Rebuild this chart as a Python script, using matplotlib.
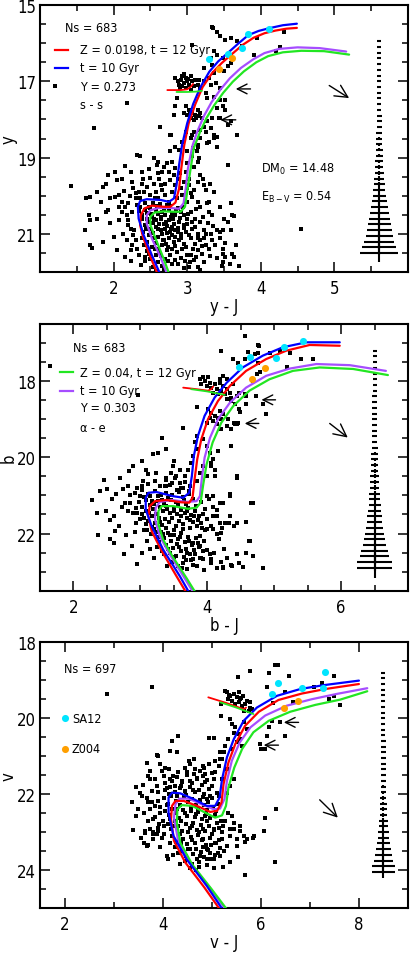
import numpy as np
import matplotlib
matplotlib.use('Agg')
import matplotlib.pyplot as plt
from matplotlib.ticker import MultipleLocator, FixedLocator

plt.rcParams['font.family'] = ['DejaVu Sans']
plt.rcParams['font.stretch'] = 'condensed'
plt.rcParams['mathtext.default'] = 'regular'

# ---------------- panel 1 : y vs y-J ----------------
yJ_stars = [
    (1.42,19.75),(1.62,20.07),(1.68,20.03),(1.78,19.90),(1.86,19.76),(1.89,19.68),(1.93,19.46),(2.02,19.37),
    (2.05,19.59),(2.11,19.55),(2.15,19.21),(2.23,19.37),(2.25,19.63),(2.32,18.93),(2.39,19.39),(2.55,19.02),
    (2.61,19.11),(2.66,19.37),(2.77,18.84),(2.80,19.11),(2.84,19.28),
    (1.83,20.16),(1.89,20.42),(1.93,20.38),(1.95,20.07),(2.02,20.03),(2.07,19.98),(2.11,20.16),(2.16,20.29),
    (2.11,20.42),(2.07,20.64),(2.18,20.51),(2.20,20.64),(2.25,20.42),(2.27,19.81),(2.30,19.94),(2.30,20.07),
    (2.34,19.90),(2.36,20.07),(2.23,20.86),(2.27,21.04),(2.18,21.17),(2.25,21.30),(2.30,21.17),(2.32,21.39),
    (2.23,21.43),(1.68,21.30),(1.70,21.37),(1.61,20.90),(1.66,20.51),(1.77,20.60),(1.68,20.64),(2.00,21.08),
    (2.05,21.43),(2.23,21.72),(2.43,21.72),
    (2.41,19.90),(2.45,19.76),(2.50,19.98),(2.57,19.90),(2.61,20.07),(2.66,19.85),(2.70,19.98),(2.75,20.16),
    (2.80,19.90),(2.84,19.72),(2.86,20.07),(2.93,19.98),(2.98,20.16),(3.00,19.81),
    (2.32,20.25),(2.36,20.29),(2.43,20.38),(2.50,20.33),(2.57,20.38),(2.61,20.47),(2.66,20.42),(2.70,20.51),
    (2.75,20.38),(2.80,20.47),(2.84,20.51),(2.91,20.42),(2.95,20.51),(3.00,20.60),
    (2.39,20.51),(2.45,20.60),(2.52,20.55),(2.57,20.64),(2.64,20.60),(2.68,20.73),(2.75,20.64),(2.82,20.73),
    (2.89,20.69),(2.95,20.77),(2.43,20.77),(2.50,20.86),(2.57,20.82),(2.64,20.90),(2.70,20.86),(2.77,20.95),
    (2.84,20.90),(2.91,20.99),(2.98,20.95),(2.48,21.04),(2.55,21.12),(2.61,21.08),(2.68,21.17),(2.75,21.12),
    (2.82,21.21),(2.89,21.17),(2.95,21.26),(2.52,21.34),(2.59,21.39),(2.66,21.30),(2.73,21.43),(2.80,21.39),
    (2.86,21.48),(2.93,21.39),(3.00,21.56),(2.57,21.56),(2.70,21.65),(2.84,21.69),(2.48,21.52),(2.61,21.74),
    (2.46,20.45),(2.53,20.20),(2.59,20.28),(2.72,20.25),(2.78,20.56),(2.88,20.33),(2.47,20.68),(2.54,20.72),
    (2.62,20.75),(2.72,20.80),(2.80,20.82),(2.87,20.84),(2.40,20.95),(2.53,20.97),(2.66,21.01),(2.79,21.03),
    (2.38,21.10),(2.46,21.20),(2.58,21.25),(2.71,21.27),(2.84,21.32),(2.41,21.30),(2.62,21.47),(2.77,21.55),
    (2.92,21.63),(2.66,21.85),(2.80,21.80),(2.95,21.90),(2.54,21.88),
    (3.00,20.16),(3.07,20.03),(3.14,20.16),(3.18,20.29),(3.27,20.20),(3.36,19.90),(3.30,20.42),(3.34,20.51),
    (3.05,20.42),(3.11,20.60),(3.00,20.73),(3.07,20.86),(3.14,20.99),(3.23,20.90),(3.32,20.99),(3.41,20.90),
    (3.48,20.90),(3.59,20.90),(3.63,20.53),(3.55,19.19),(3.05,21.12),(3.11,21.26),(3.18,21.17),(3.25,21.30),
    (3.30,21.39),(3.14,21.43),(3.20,21.52),(3.05,21.56),(3.09,21.69),(3.23,21.74),(3.02,21.87),(3.14,21.87),
    (3.48,21.39),(3.49,21.52),(3.61,21.52),(3.64,21.61),(3.70,21.84),(3.48,21.74),(3.23,21.12),(3.34,21.17),
    (3.00,19.15),(3.07,18.97),(3.14,19.11),(3.13,18.84),(2.95,19.63),(3.02,19.55),
    (2.36,18.96),(2.59,19.19),(2.61,19.41),(2.68,19.24),(2.73,19.13),(2.75,19.37),(2.82,19.46),(2.77,19.59),
    (2.70,19.68),(2.64,19.72),(2.55,19.68),(2.50,19.54),(2.39,19.68),(3.09,19.25),(3.16,19.02),(3.18,19.46),
    (3.14,19.63),(3.23,19.72),(3.25,19.85),(3.09,19.85),(3.02,19.72),(2.98,19.37),(3.08,18.75),(3.14,18.67),
    (3.18,18.49),(3.25,18.32),(3.27,18.62),(3.18,18.27),(3.07,18.40),(2.98,18.32),(2.93,18.58),(2.89,18.80),
    (2.84,18.71),(3.41,18.71),(3.36,18.40),(3.55,18.14),(3.45,17.97),
    (2.18,17.57),(1.74,18.23),(2.63,18.21),(2.78,18.40),(3.35,15.60),(3.07,16.04),(4.31,15.70),(4.26,16.10),
    (3.91,16.32),(3.68,18.40),(3.30,20.16),(3.59,20.18),(3.61,20.51),(3.45,20.95),(4.55,20.86),(3.51,21.61),
    (3.47,21.83),
    (3.34,15.58),(3.40,15.70),(3.45,15.82),(3.52,15.93),(3.59,15.86),(3.68,15.95),(3.75,16.08),(3.95,15.86),
    (4.20,16.21),(3.36,16.21),(3.41,16.30),(3.48,16.39),(3.32,16.39),(3.34,16.56),(3.55,16.61),(3.50,16.74),
    (3.59,16.52),(3.23,16.65),(3.36,16.78),(3.30,16.91),(3.16,16.96),(3.23,17.00),(3.32,17.09),(3.39,17.04),
    (3.45,17.18),
    (2.84,16.91),(2.91,16.96),(2.93,16.87),(2.98,16.91),(3.00,17.00),(3.05,16.87),(3.02,17.09),(3.07,17.00),
    (3.09,17.13),(2.95,17.04),(2.89,17.09),(3.11,16.96),(2.98,17.18),(2.93,17.13),(3.05,17.22),(3.14,17.09),
    (2.87,17.00),(2.96,16.82),(3.01,16.95),(2.90,17.17),
    (3.18,17.18),(3.25,17.31),(3.27,17.44),(3.36,17.40),(3.45,17.48),(3.48,17.66),(3.52,17.48),(3.41,17.70),
    (3.43,17.97),(3.34,17.97),(3.52,17.75),(3.59,18.05),(3.41,18.45),(3.36,18.49),(3.30,18.58),(3.32,18.23),
    (3.23,18.19),(3.27,18.05),
    (2.98,17.66),(3.02,17.75),(3.07,17.83),(3.11,17.88),(3.16,17.92),(3.00,17.88),(3.05,17.97),(3.14,17.75),
    (3.18,17.83),(2.95,17.83),(3.09,18.01),(3.20,17.97),(3.04,17.80),(3.12,17.95),
    (2.84,17.66),(2.82,17.88),(2.86,17.44),(2.77,18.40),(3.00,18.84),(3.14,18.71),(3.05,18.49),(3.09,18.32),
    (2.35,20.40),(2.38,20.60),(2.42,20.20),(2.44,20.88),(2.48,20.30),(2.51,20.48),(2.55,20.62),(2.56,20.05),
    (2.60,20.88),(2.63,20.22),(2.65,20.55),(2.67,21.15),(2.69,20.35),(2.71,20.68),(2.73,20.98),(2.74,21.35),
    (2.76,20.28),(2.78,20.88),(2.81,20.62),(2.83,21.08),(2.85,20.40),(2.87,20.95),(2.90,20.58),(2.92,21.12),
    (2.94,20.30),(2.96,20.85),(2.99,21.35),(3.01,20.48),(3.03,21.02),(3.06,20.68),(3.08,21.40),(3.10,20.82),
    (3.12,20.35),(3.15,21.10),(3.17,20.70),(3.20,21.32),(3.22,20.55),(3.26,21.00),(3.28,20.72),(3.31,21.58),
    (3.35,20.80),(3.38,21.30),(3.40,21.62),(3.44,21.10),(3.52,21.25),(3.56,20.70),(3.58,21.80),(3.66,21.30),
    (2.45,21.45),(2.50,21.65),(2.56,21.40),(2.64,21.58),(2.68,21.95),(2.74,21.70),(2.88,21.78),(2.97,21.70),
    (3.04,21.75),(3.12,21.60),(3.18,21.95),(2.42,21.60),(2.37,21.82),(2.58,21.96),(2.28,20.90),(2.20,20.20),
    (2.14,19.88),(2.22,20.00),(2.08,20.30),(2.19,20.78),(2.13,21.00),(2.35,21.55),(2.15,21.60),(1.95,20.72),
    (1.85,21.20),(2.40,19.55),(2.48,19.30),(2.62,19.55),(2.90,19.40),(2.92,19.80),(2.87,19.55),(3.05,19.92),
    (3.22,19.55),(3.31,19.70),(3.45,20.30),(3.50,20.60),
]
yJ_red = [(2.645,22.26),(2.49,21.56),(2.40,21.08),(2.36,20.77),(2.37,20.51),(2.42,20.33),(2.52,20.26),
          (2.68,20.29),(2.77,20.29),(2.84,20.18),(2.89,19.81),(2.92,19.28),(2.96,18.67),(3.02,18.10),
          (3.11,17.60),(3.21,17.15),(3.34,16.78),(3.47,16.52),(3.60,16.30),(3.75,16.05),(3.90,15.86),
          (4.05,15.74),(4.20,15.67),(4.35,15.62),(4.49,15.60)]
yJ_blue = [(2.68,22.26),(2.52,21.56),(2.41,21.04),(2.34,20.60),(2.33,20.29),(2.36,20.14),(2.45,20.09),
           (2.64,20.11),(2.75,20.16),(2.82,20.07),(2.855,19.72),(2.89,19.19),(2.93,18.67),(3.00,18.10),
           (3.08,17.60),(3.18,17.15),(3.30,16.75),(3.42,16.48),(3.55,16.26),(3.70,16.00),(3.83,15.79),
           (3.97,15.68),(4.11,15.61),(4.30,15.53),(4.49,15.49)]
yJ_purple = [(2.77,22.26),(2.645,21.65),(2.52,21.12),(2.45,20.73),(2.45,20.51),(2.50,20.38),(2.61,20.32),
             (2.77,20.32),(2.89,20.34),(2.95,20.20),(2.98,19.81),(3.01,19.28),(3.07,18.70),(3.14,18.30),
             (3.23,17.90),(3.33,17.55),(3.45,17.22),(3.58,16.92),(3.73,16.65),(3.90,16.42),(4.05,16.26),
             (4.25,16.15),(4.50,16.11),(4.80,16.13),(5.16,16.22)]
yJ_green = [(2.795,22.26),(2.68,21.65),(2.57,21.12),(2.50,20.77),(2.50,20.55),(2.555,20.44),(2.68,20.41),
            (2.82,20.42),(2.91,20.42),(2.97,20.29),(3.00,19.90),(3.04,19.37),(3.09,18.75),(3.17,18.35),
            (3.26,17.97),(3.37,17.62),(3.49,17.30),(3.62,17.01),(3.77,16.74),(3.94,16.50),(4.10,16.34),
            (4.30,16.24),(4.55,16.20),(4.86,16.21),(5.20,16.30)]
yJ_hb_red = [(2.73,17.23),(2.91,17.23),(3.00,17.21),(3.05,17.14),(3.08,17.07)]
yJ_hb_green = [(2.855,17.28),(3.00,17.28),(3.12,17.27),(3.20,17.25)]
yJ_sa12 = [(3.29,16.41),(3.55,16.28),(3.74,16.12),(3.83,15.76),(4.11,15.62)]
yJ_z004 = [(3.43,16.68),(3.61,16.39)]
yJ_err_mag = [15.95,16.10,16.25,16.40,16.55,16.70,16.85,17.00,17.15,17.30,17.45,17.60,17.75,17.90,18.05,
              18.20,18.35,18.50,18.65,18.80,18.95,19.10,19.25,19.40,19.55,19.70,19.85,20.00,20.15,20.30,
              20.45,20.60,20.75,20.90,21.05,21.20,21.35,21.50]
yJ_err_col = [0.025,0.025,0.025,0.025,0.025,0.025,0.025,0.026,0.026,0.027,0.028,0.029,0.030,0.032,0.034,
              0.036,0.038,0.040,0.043,0.046,0.049,0.052,0.056,0.062,0.068,0.074,0.082,0.092,0.104,0.118,
              0.132,0.146,0.158,0.170,0.185,0.205,0.230,0.260]
yJ_err_y = [0.01,0.01,0.01,0.01,0.012,0.012,0.013,0.014,0.015,0.016,0.018,0.02,0.022,0.024,0.026,0.028,
            0.03,0.033,0.036,0.04,0.044,0.048,0.053,0.058,0.064,0.07,0.076,0.082,0.09,0.10,0.11,0.12,
            0.13,0.15,0.17,0.19,0.21,0.24]

# ---------------- panel 2 : b vs b-J ----------------
bJ_stars = [
    (1.65,17.61),(2.96,18.36),(3.32,19.48),(3.63,19.24),(3.19,19.92),(3.27,19.88),(3.38,19.79),(3.02,20.10),
    (2.89,20.23),(2.83,20.36),(3.09,20.32),(3.12,20.45),(3.24,20.40),(2.69,20.54),(2.64,20.97),(2.74,20.84),
    (2.82,20.76),(2.50,20.83),(2.40,20.89),(2.28,21.12),(2.84,21.19),(2.82,21.41),(2.54,21.65),(2.89,21.46),
    (2.94,21.33),(2.99,21.02),(3.02,20.76),(3.04,20.62),(2.92,20.93),(3.49,20.23),(3.54,20.49),(3.47,20.67),
    (3.39,20.76),(2.94,21.72),(2.99,21.63),(2.61,21.54),(2.37,22.04),(2.62,21.94),(2.60,22.25),(2.88,22.33),
    (3.02,22.51),(2.92,21.96),(2.77,21.19),
    (4.56,16.81),(4.21,17.20),(4.39,17.42),(4.46,17.51),(4.56,17.42),(4.71,17.29),(4.76,17.05),(4.61,17.23),
    (4.76,17.51),(4.79,17.77),(4.74,17.82),(4.68,17.99),(4.94,17.25),(5.08,17.20),(5.23,17.25),(5.40,17.42),
    (5.58,17.42),(5.19,17.64),(4.24,17.86),(4.29,17.95),(4.39,18.08),(4.36,18.43),(4.58,18.61),(4.49,18.82),
    (4.40,19.09),(4.44,19.13),(4.88,18.87),(4.83,18.61),(4.73,18.39),(4.56,18.34),(4.16,19.83),(4.36,19.70),
    (4.44,20.54),(4.06,20.14),(4.11,20.49),(4.68,21.21),(4.58,21.69),(4.33,21.72),(4.40,21.81),(4.19,21.72),
    (4.09,21.54),(4.14,21.37),(4.24,21.19),(4.34,21.02),(3.99,21.02),(4.45,22.55),(4.58,22.51),(4.68,22.60),
    (4.53,22.89),(4.37,22.84),(4.64,22.20),(4.83,22.90),(4.23,22.88),(4.14,22.90),(4.06,22.77),(4.04,22.55),
    (3.89,22.64),(3.79,22.68),
    (3.89,17.95),(3.96,17.99),(4.04,18.04),(4.11,18.08),(4.19,18.04),(4.24,18.12),(3.99,18.12),(4.06,18.17),
    (4.14,18.21),(4.21,18.26),(4.29,18.21),(4.09,18.30),(4.16,18.34),(4.26,18.34),(3.94,17.90),(4.01,17.90),
    (3.91,18.08),(4.34,18.30),(4.19,17.95),(4.29,18.47),(4.36,18.52),(4.44,18.39),(4.48,18.30),(4.41,18.61),
    (4.58,18.39),(4.48,18.74),
    (4.01,18.74),(4.06,18.83),(4.11,18.91),(4.16,18.96),(4.21,19.00),(4.04,18.96),(4.09,19.04),(4.14,19.13),
    (4.24,18.87),(4.19,18.78),(3.99,19.09),(4.29,19.18),(4.31,19.00),(4.36,19.26),(4.41,19.13),(4.46,19.09),
    (3.84,19.44),(3.81,19.61),(3.86,19.79),(3.79,19.97),(3.76,20.14),(3.94,19.53),(3.99,19.70),(4.04,19.88),
    (4.09,20.05),(4.06,20.23),(4.11,20.32),(3.94,20.23),(3.89,20.40),(3.84,20.62),(3.99,20.49),(3.71,20.32),
    (3.66,20.49),(3.59,20.32),(3.51,20.10),(3.46,20.40),(3.39,20.54),(3.37,20.75),(3.59,20.67),(3.64,20.80),
    (3.74,20.76),(4.21,19.26),(4.44,20.49),(4.34,20.97),(4.19,21.19),(4.09,21.02),(4.66,21.19),(4.44,21.72),
    (4.34,21.54),(4.26,21.72),(4.14,21.54),(4.09,21.89),(4.21,21.98),(4.63,22.20),(4.58,22.51),(4.48,22.77),
    (4.36,22.82),(4.24,22.90),(4.06,22.68),(3.99,22.42),(3.89,22.33),(3.94,22.68),(3.79,22.25),(3.89,22.07),
    (3.99,21.89),(3.85,18.69),(4.78,17.07),(4.76,17.25),
    (3.05,21.05),(3.12,20.95),(3.18,21.15),(3.22,20.88),(3.27,21.02),(3.33,21.12),(3.38,20.93),(3.42,21.08),
    (3.48,20.98),(3.53,21.16),(3.57,20.90),(3.63,21.05),(3.68,21.22),(3.72,20.97),(3.78,21.10),(3.83,21.28),
    (3.90,21.18),(3.96,21.35),(3.02,21.30),(3.08,21.42),(3.14,21.25),(3.19,21.36),(3.24,21.48),(3.29,21.30),
    (3.34,21.40),(3.39,21.27),(3.45,21.45),(3.50,21.33),(3.55,21.50),(3.60,21.38),(3.66,21.46),(3.71,21.32),
    (3.76,21.52),(3.82,21.42),(3.88,21.55),(3.93,21.48),(4.00,21.62),(3.06,21.58),(3.12,21.66),(3.17,21.55),
    (3.22,21.72),(3.28,21.60),(3.33,21.78),(3.37,21.63),(3.43,21.70),(3.48,21.58),(3.53,21.80),(3.58,21.66),
    (3.63,21.75),(3.69,21.60),(3.74,21.85),(3.79,21.70),(3.85,21.80),(3.91,21.72),(3.97,21.90),(3.10,21.90),
    (3.16,22.02),(3.21,21.88),(3.26,22.08),(3.31,21.95),(3.36,22.12),(3.41,21.98),(3.46,22.20),(3.51,22.05),
    (3.56,22.15),(3.61,21.98),(3.66,22.22),(3.71,22.08),(3.77,22.30),(3.83,22.12),(3.88,22.35),(3.95,22.20),
    (3.25,22.35),(3.32,22.45),(3.38,22.30),(3.44,22.50),(3.49,22.38),(3.54,22.58),(3.60,22.45),(3.65,22.62),
    (3.70,22.50),(3.76,22.70),(3.82,22.55),(3.90,22.65),(3.48,22.75),(3.56,22.85),(3.63,22.78),(3.70,22.92),
    (3.78,22.82),(2.98,21.18),(2.95,21.45),(3.00,21.62),(4.02,21.10),(4.08,21.30),(4.12,21.55),(4.05,21.80),
    (4.15,22.00),(4.22,21.85),(4.18,22.15),(4.25,22.40),(4.10,22.50),(4.30,22.65),(4.20,22.75),
    (3.38,20.60),(3.45,20.72),(3.52,20.55),(3.60,20.80),(3.67,20.66),(3.73,20.88),(3.55,20.85),(3.30,20.75),
    (3.22,20.62),(3.12,20.70),
    (3.03,20.85),(3.09,21.12),(3.15,21.02),(3.20,21.22),(3.26,21.15),(3.31,20.98),(3.36,21.20),(3.40,21.35),
    (3.46,21.12),(3.51,21.40),(3.56,21.25),(3.61,21.55),(3.65,21.12),(3.70,21.42),(3.74,21.65),(3.80,21.55),
    (3.86,21.65),(3.92,21.85),(3.03,21.48),(3.08,21.75),(3.13,21.45),(3.18,21.82),(3.24,21.95),(3.29,21.70),
    (3.34,22.00),(3.39,21.85),(3.44,22.05),(3.50,21.90),(3.55,22.28),(3.59,22.10),(3.64,21.88),(3.68,22.40),
    (3.73,22.20),(3.80,22.42),(3.86,22.25),(3.93,22.45),(3.28,22.22),(3.35,22.55),(3.42,22.40),(3.50,22.62),
    (3.58,22.35),(3.62,22.90),(3.68,22.70),(3.74,22.55),(3.85,22.85),(3.95,22.95),(3.40,22.85),(2.95,20.80),
    (2.85,21.00),(2.72,21.30),(2.68,21.80),(2.78,22.05),(2.55,22.15),(2.48,21.40),(2.58,21.10),(2.46,20.60),
    (2.35,21.45),(2.75,22.55),(2.95,22.80),(3.15,22.40),(3.20,22.65),(3.10,22.20),(3.05,21.92),
]
bJ_red = [(3.75,23.74),(3.54,23.12),(3.32,22.46),(3.17,21.94),(3.12,21.54),(3.14,21.28),(3.22,21.15),
          (3.39,21.12),(3.61,21.18),(3.73,21.19),(3.78,21.06),(3.81,20.58),(3.85,20.05),(3.91,19.53),
          (4.01,19.00),(4.16,18.52),(4.34,18.12),(4.58,17.73),(4.88,17.42),(5.18,17.20),(5.53,17.05),
          (5.98,17.07)]
bJ_blue = [(3.79,23.74),(3.59,23.12),(3.34,22.42),(3.17,21.81),(3.08,21.37),(3.08,21.06),(3.12,20.93),
           (3.24,20.91),(3.49,21.02),(3.64,21.06),(3.73,20.93),(3.77,20.49),(3.80,19.96),(3.86,19.44),
           (3.96,18.91),(4.11,18.43),(4.29,18.04),(4.53,17.64),(4.83,17.33),(5.13,17.11),(5.48,16.98),
           (5.98,16.98)]
bJ_purple = [(3.86,23.74),(3.66,23.17),(3.44,22.55),(3.29,22.07),(3.22,21.63),(3.23,21.32),(3.29,21.17),
             (3.47,21.12),(3.69,21.17),(3.84,21.15),(3.89,21.02),(3.92,20.54),(3.96,20.01),(4.04,19.49),
             (4.16,19.00),(4.34,18.56),(4.58,18.17),(4.88,17.86),(5.23,17.67),(5.63,17.55),(6.13,17.58),
             (6.67,17.73)]
bJ_green = [(3.89,23.74),(3.69,23.17),(3.48,22.60),(3.34,22.16),(3.27,21.76),(3.27,21.41),(3.32,21.28),
            (3.49,21.28),(3.71,21.35),(3.84,21.32),(3.90,21.19),(3.94,20.71),(3.99,20.18),(4.08,19.61),
            (4.21,19.09),(4.39,18.65),(4.63,18.25),(4.93,17.95),(5.28,17.73),(5.68,17.64),(6.18,17.68),
            (6.70,17.84)]
bJ_hb_red = [(3.64,18.17),(3.84,18.21),(4.01,18.25),(4.06,18.21),(4.09,18.14)]
bJ_hb_green = [(3.76,18.21),(4.00,18.27),(4.26,18.36)]
bJ_sa12 = [(4.475,17.62),(4.64,17.37),(5.02,17.40),(5.14,17.09),(5.43,16.94)]
bJ_z004 = [(4.67,17.95),(4.87,17.66)]
bJ_err_mag = [17.20,17.35,17.50,17.65,17.80,17.95,18.10,18.25,18.40,18.55,18.70,18.85,19.00,19.15,19.30,
              19.45,19.60,19.75,19.90,20.05,20.20,20.35,20.50,20.65,20.80,20.95,21.10,21.25,21.40,21.55,
              21.70,21.85,22.00,22.15,22.30,22.45,22.60,22.75,22.90]
bJ_err_col = [0.03,0.03,0.03,0.03,0.03,0.03,0.03,0.03,0.031,0.032,0.033,0.034,0.035,0.037,0.039,
              0.041,0.043,0.045,0.048,0.051,0.054,0.057,0.061,0.065,0.070,0.076,0.082,0.090,0.099,0.108,
              0.118,0.130,0.144,0.160,0.178,0.198,0.222,0.255,0.260]
bJ_err_y = [0.01,0.01,0.01,0.01,0.012,0.012,0.013,0.014,0.015,0.016,0.018,0.02,0.022,0.024,0.026,0.028,
            0.03,0.033,0.036,0.04,0.044,0.048,0.053,0.058,0.064,0.07,0.076,0.082,0.09,0.10,0.11,0.12,
            0.13,0.15,0.17,0.19,0.21,0.23,0.26]

# ---------------- panel 3 : v vs v-J ----------------
vJ_stars = [
    (2.86,19.36),(3.79,19.19),(5.77,18.75),(5.53,18.92),(6.16,18.82),(6.28,18.60),(6.36,18.60),(6.57,18.88),
    (6.49,19.32),(6.13,19.19),(6.25,19.60),(6.66,19.57),(7.08,19.19),(7.25,19.06),(7.49,18.90),(7.38,19.50),
    (7.62,19.65),(7.49,19.41),(6.50,20.46),(6.40,20.11),(5.99,20.68),(5.19,19.95),(5.18,19.63),(4.94,20.51),
    (5.04,20.51),(4.19,20.59),(4.31,20.46),(4.63,21.08),(4.54,21.12),(3.89,20.97),(3.68,21.17),(3.37,22.20),
    (3.46,22.57),(3.64,22.97),(3.71,23.35),(3.81,23.01),(3.91,22.88),(4.08,23.63),(6.32,22.40),(6.09,22.62),
    (6.06,22.97),(5.87,23.10),(5.68,23.26),(5.51,23.37),(5.38,23.10),(5.45,22.93),(5.58,22.84),(5.53,23.66),
    (5.38,23.80),(5.23,23.91),(5.67,24.14),(6.28,23.79),(5.04,23.72),(4.97,23.54),(4.77,23.63),(5.16,23.41),
    (5.31,23.37),(5.04,22.93),(4.87,22.57),
    (5.31,19.32),(5.38,19.41),(5.45,19.36),(5.51,19.45),(5.58,19.50),(5.41,19.54),(5.48,19.63),(5.55,19.58),
    (5.62,19.67),(5.68,19.63),(5.72,19.54),(5.79,19.58),(5.82,19.76),(5.75,19.80),(5.65,19.80),(5.34,19.50),
    (5.28,19.28),(5.55,19.32),(5.64,19.41),(5.79,19.72),(5.36,19.40),(5.60,19.46),
    (5.38,20.02),(5.41,20.16),(5.48,20.24),(5.45,20.38),(5.55,20.42),(5.58,20.55),(5.51,20.64),(5.34,20.55),
    (5.28,20.73),(5.24,20.90),(5.17,21.08),(5.14,21.26),(5.07,21.43),(5.04,21.61),(5.00,21.78),(4.94,21.87),
    (4.87,21.69),(4.83,21.52),(5.21,21.61),(5.10,21.96),(4.97,22.05),(4.90,22.14),(5.65,20.11),(5.72,20.29),
    (5.62,20.73),(5.41,20.82),(5.17,20.90),(5.21,21.08),(5.07,21.12),(5.31,21.34),(5.38,21.78),(5.45,21.61),
    (5.31,21.96),(6.01,20.82),(6.09,20.82),(6.13,20.46),(6.16,20.24),(6.23,20.07),
    (5.34,22.49),(5.41,22.57),(5.28,22.71),(5.45,22.75),(5.38,22.93),(5.58,22.97),(5.65,23.10),(5.51,23.19),
    (5.72,23.19),(5.85,23.15),(6.06,22.97),(5.21,23.19),(5.31,23.37),(5.07,23.28),(5.17,23.63),(4.97,23.72),
    (4.90,23.45),(4.83,23.19),
    (3.98,21.39),(4.05,21.30),(4.12,21.34),(4.02,21.52),(4.15,21.61),(4.22,21.52),(4.32,21.43),(4.46,21.30),
    (4.53,21.12),(4.56,21.21),(4.49,21.43),(4.63,21.48),(4.77,21.39),(4.83,21.26),(4.87,21.48),(4.70,21.61),
    (4.56,21.65),(4.39,21.69),(4.25,21.78),(4.08,21.83),(3.88,21.78),(3.78,21.91),(3.54,21.96),(3.57,22.05),
    (3.68,22.09),(3.78,22.22),(3.74,22.40),(3.85,22.31),(3.91,22.18),(3.95,22.49),(3.81,22.66),(3.71,22.71),
    (3.74,22.93),(3.91,22.97),(4.02,22.84),(3.98,23.15),(3.64,23.02),(3.61,23.28),(3.68,23.37),(3.81,23.19),
    (4.08,23.63),(4.14,20.86),(4.30,20.90),(3.91,20.99),(3.71,21.52),(3.74,21.61),(3.95,21.21),
    (4.05,21.90),(4.15,21.82),(4.25,21.95),(4.35,21.85),(4.45,21.92),(4.55,21.80),(4.65,21.95),(4.75,21.88),
    (4.85,22.00),(4.02,22.10),(4.10,22.25),(4.18,22.05),(4.28,22.18),(4.36,22.30),(4.44,22.08),(4.52,22.22),
    (4.60,22.12),(4.68,22.28),(4.76,22.15),(4.84,22.30),(4.92,22.20),(5.02,22.35),(5.12,22.25),(4.05,22.45),
    (4.13,22.55),(4.20,22.38),(4.27,22.50),(4.34,22.62),(4.42,22.42),(4.50,22.58),(4.57,22.45),(4.65,22.60),
    (4.73,22.48),(4.80,22.65),(4.88,22.52),(4.97,22.62),(5.06,22.55),(5.18,22.70),(4.10,22.80),(4.18,22.92),
    (4.25,22.72),(4.32,22.85),(4.40,22.98),(4.48,22.78),(4.55,22.90),(4.62,22.75),(4.70,22.95),(4.78,22.82),
    (4.86,22.98),(4.95,22.85),(5.05,22.95),(5.15,22.88),(4.20,23.10),(4.28,23.25),(4.35,23.05),(4.42,23.18),
    (4.50,23.32),(4.57,23.12),(4.65,23.28),(4.72,23.08),(4.80,23.22),(4.88,23.35),(4.96,23.15),(5.08,23.30),
    (4.40,23.50),(4.48,23.62),(4.55,23.45),(4.62,23.58),(4.70,23.72),(4.78,23.52),(4.85,23.65),(4.93,23.48),
    (5.02,23.70),(5.12,23.55),(4.60,23.85),(4.75,23.92),(4.90,23.88),(5.05,23.95),
    (3.90,21.95),(3.95,22.35),(3.85,22.60),(4.00,22.70),(3.92,22.80),(3.80,23.05),
    (4.30,21.55),(4.40,21.65),(4.50,21.50),(4.60,21.70),(4.70,21.58),(4.80,21.75),(4.90,21.62),(5.00,21.45),
    (4.65,21.35),(4.85,21.30),(4.95,21.20),
    (4.05,21.70),(4.12,22.00),(4.20,21.65),(4.30,22.05),(4.38,21.78),(4.48,22.02),(4.58,22.35),(4.62,21.90),
    (4.72,22.40),(4.82,22.08),(4.90,22.42),(5.00,22.10),(5.08,22.45),(5.15,22.05),(5.22,22.85),(4.08,22.30),
    (4.15,22.65),(4.22,22.85),(4.30,22.40),(4.38,22.72),(4.46,22.50),(4.52,23.00),(4.60,22.85),(4.68,22.52),
    (4.75,23.00),(4.83,22.92),(4.90,22.72),(5.00,23.05),(5.10,22.75),(5.20,23.00),(4.25,23.40),(4.32,23.55),
    (4.38,23.30),(4.45,23.75),(4.52,23.45),(4.60,23.20),(4.68,23.45),(4.74,23.80),(4.82,23.40),(4.90,23.70),
    (4.98,23.35),(5.06,23.60),(5.15,23.20),(5.25,23.50),(4.15,23.30),(4.22,23.60),(4.35,23.85),(4.55,23.95),
    (4.68,24.00),(3.75,21.40),(3.85,21.60),(3.60,21.75),(3.50,22.40),(3.62,22.50),(3.55,23.15),(3.70,22.20),
    (3.45,21.80),(3.40,22.95),(3.95,23.40),(3.88,23.05),(4.02,23.05),(4.10,23.70),
]
vJ_red = [(5.26,25.21),(4.85,24.46),(4.46,23.80),(4.23,23.23),(4.17,22.66),(4.19,22.31),(4.26,22.18),
          (4.43,22.18),(4.70,22.31),(4.97,22.47),(5.11,22.44),(5.20,22.22),(5.24,21.74),(5.34,21.17),
          (5.48,20.68),(5.68,20.20),(5.96,19.83),(6.36,19.52),(6.84,19.35),(7.32,19.23),(8.00,19.10)]
vJ_blue = [(5.31,25.21),(4.90,24.42),(4.49,23.72),(4.22,23.10),(4.12,22.49),(4.12,22.09),(4.19,21.96),
           (4.36,21.98),(4.63,22.13),(4.90,22.31),(5.07,22.31),(5.16,22.09),(5.21,21.61),(5.31,21.03),
           (5.45,20.55),(5.65,20.07),(5.92,19.72),(6.33,19.41),(6.81,19.23),(7.28,19.13),(8.00,19.01)]
vJ_purple = [(5.38,25.21),(4.96,24.46),(4.55,23.80),(4.31,23.19),(4.23,22.62),(4.26,22.27),(4.34,22.12),
             (4.53,22.12),(4.80,22.27),(5.04,22.40),(5.17,22.38),(5.26,22.13),(5.31,21.65),(5.41,21.12),
             (5.57,20.64),(5.79,20.24),(6.09,19.93),(6.53,19.67),(7.04,19.50),(7.55,19.36),(8.17,19.21)]
vJ_green = [(5.41,25.21),(5.00,24.51),(4.60,23.85),(4.36,23.28),(4.29,22.75),(4.30,22.40),(4.39,22.29),
            (4.60,22.31),(4.87,22.49),(5.07,22.62),(5.21,22.56),(5.29,22.31),(5.34,21.83),(5.46,21.30),
            (5.62,20.81),(5.85,20.37),(6.16,20.07),(6.60,19.83),(7.11,19.65),(7.62,19.51),(8.17,19.29)]
vJ_hb_red = [(4.93,19.45),(5.30,19.60),(5.65,19.76),(5.70,19.72)]
vJ_hb_green = [(5.17,19.58),(5.50,19.72),(5.85,19.89)]
vJ_sa12 = [(6.23,19.36),(6.35,19.08),(6.84,19.21),(7.27,19.21),(7.30,18.79)]
vJ_z004 = [(6.47,19.73),(6.76,19.54)]
vJ_err_mag = [18.80,18.95,19.10,19.25,19.40,19.55,19.70,19.85,20.00,20.15,20.30,20.45,20.60,20.75,20.90,
              21.05,21.20,21.35,21.50,21.65,21.80,21.95,22.10,22.25,22.40,22.55,22.70,22.85,23.00,23.15,
              23.30,23.45,23.60,23.75,23.90,24.05]
vJ_err_col = [0.04,0.04,0.04,0.04,0.04,0.04,0.04,0.04,0.04,0.04,0.04,0.041,0.042,0.043,0.044,0.045,0.046,
              0.048,0.050,0.052,0.055,0.058,0.062,0.068,0.074,0.08,0.088,0.096,0.105,0.12,0.14,0.16,0.18,
              0.20,0.24,0.24]
vJ_err_y = [0.01,0.01,0.01,0.01,0.01,0.01,0.012,0.012,0.013,0.014,0.015,0.016,0.018,0.02,0.022,0.024,
            0.026,0.028,0.03,0.033,0.036,0.04,0.045,0.05,0.056,0.062,0.07,0.078,0.086,0.095,0.105,0.115,
            0.125,0.135,0.145,0.16]

RED = '#ff0000'
BLUE = '#0000ff'
GREEN = '#22e622'
PURPLE = '#a64dff'
CYAN = '#00e5ff'
ORANGE = '#ff9f00'


def xy(pts):
    a = np.array(pts, dtype=float)
    return a[:, 0], a[:, 1]


def draw_line(ax, pts, color, lw=1.6):
    x, y = xy(pts)
    ax.plot(x, y, color=color, lw=lw, solid_capstyle='round', zorder=3)


def arrow(ax, start, end, big=False):
    if big:
        style = '->,head_length=0.9,head_width=0.45'
    else:
        style = '->,head_length=0.7,head_width=0.35'
    ax.annotate('', xy=end, xytext=start,
                arrowprops=dict(arrowstyle=style, color='k', lw=1.0, shrinkA=0, shrinkB=0))


def setup(ax, xlim, ylim, xmaj, xmin, ymaj, ymin, xlabel, ylabel):
    ax.set_xlim(*xlim)
    ax.set_ylim(*ylim)
    ax.xaxis.set_major_locator(xmaj)
    ax.xaxis.set_minor_locator(MultipleLocator(xmin))
    ax.yaxis.set_major_locator(ymaj)
    ax.yaxis.set_minor_locator(MultipleLocator(ymin))
    ax.tick_params(which='both', direction='in', top=True, right=True, width=1.1)
    ax.tick_params(which='major', length=7, labelsize=12)
    ax.tick_params(axis='x', which='major', pad=5)
    ax.tick_params(axis='y', which='major', pad=3)
    ax.tick_params(which='minor', length=4)
    for s in ax.spines.values():
        s.set_linewidth(1.5)
    ax.set_xlabel(xlabel, fontsize=12, labelpad=0)
    ax.set_ylabel(ylabel, fontsize=12)
    # keep the y label inside the figure, as in the original
    ax.yaxis.set_label_coords(-0.062, 0.5)


def panel(ax, stars, red, blue, purple, green, hb_red, hb_green, sa12, z004,
          err_x, err_mag, err_col, err_y):
    sx, sy = xy(stars)
    ax.scatter(sx, sy, s=6, marker='s', color='k', lw=0, zorder=2)
    draw_line(ax, purple, PURPLE)
    draw_line(ax, green, GREEN)
    draw_line(ax, red, RED)
    draw_line(ax, blue, BLUE)
    draw_line(ax, hb_red, RED, lw=1.3)
    draw_line(ax, hb_green, GREEN, lw=1.3)
    cx, cy = xy(sa12)
    ax.scatter(cx, cy, s=26, color=CYAN, lw=0, zorder=4)
    ox, oy = xy(z004)
    ax.scatter(ox, oy, s=26, color=ORANGE, lw=0, zorder=4)
    ax.errorbar(np.full(len(err_mag), err_x), err_mag, xerr=err_col, yerr=err_y,
                fmt='none', ecolor='k', elinewidth=1.5, capsize=0)


fig = plt.figure(figsize=(4.15, 9.54), dpi=100)

# panel 1
ax1 = fig.add_axes([0.0964, 0.7138, 0.8867, 0.2799])
panel(ax1, yJ_stars, yJ_red, yJ_blue, yJ_purple, yJ_green, yJ_hb_red, yJ_hb_green,
      yJ_sa12, yJ_z004, 5.61, yJ_err_mag, yJ_err_col, yJ_err_y)
setup(ax1, (1, 6), (22, 15), FixedLocator([2, 3, 4, 5]), 0.5,
      MultipleLocator(2, offset=1), 0.5, 'y - J', 'y')
ax1.text(1.34, 15.60, 'Ns = 683', fontsize=9, va='center')
ax1.plot([1.205, 1.386], [16.17, 16.17], color=RED, lw=1.6)
ax1.text(1.545, 16.17, 'Z = 0.0198, t = 12 Gyr', fontsize=9, va='center')
ax1.plot([1.205, 1.386], [16.65, 16.65], color=BLUE, lw=1.6)
ax1.text(1.545, 16.65, 't = 10 Gyr', fontsize=9, va='center')
ax1.scatter([1.205], [17.13], s=6, marker='s', color='k', lw=0)
ax1.text(1.545, 17.13, 'Y = 0.273', fontsize=9, va='center')
ax1.text(1.545, 17.62, 's - s', fontsize=9, va='center')
ax1.text(4.0, 19.28, 'DM$_0$ = 14.48', fontsize=9, va='center')
ax1.text(4.0, 20.03, 'E$_{B-V}$ = 0.54', fontsize=9, va='center')
arrow(ax1, (3.86, 17.20), (3.66, 17.20))
arrow(ax1, (3.66, 18.01), (3.45, 18.01))
arrow(ax1, (4.93, 17.11), (5.20, 17.44), big=True)

# panel 2
ax2 = fig.add_axes([0.0964, 0.3798, 0.8867, 0.2795])
panel(ax2, bJ_stars, bJ_red, bJ_blue, bJ_purple, bJ_green, bJ_hb_red, bJ_hb_green,
      bJ_sa12, bJ_z004, 6.5, bJ_err_mag, bJ_err_col, bJ_err_y)
setup(ax2, (1.5, 7), (23.5, 16.5), MultipleLocator(2), 0.5,
      MultipleLocator(2), 0.5, 'b - J', 'b')
ax2.text(2.0, 17.11, 'Ns = 683', fontsize=9, va='center')
ax2.plot([1.80, 1.99], [17.77, 17.77], color=GREEN, lw=1.6)
ax2.text(2.10, 17.77, 'Z = 0.04, t = 12 Gyr', fontsize=9, va='center')
ax2.plot([1.80, 1.99], [18.25, 18.25], color=PURPLE, lw=1.6)
ax2.text(2.10, 18.25, 't = 10 Gyr', fontsize=9, va='center')
ax2.text(2.10, 18.70, 'Y = 0.303', fontsize=9, va='center')
ax2.text(2.10, 19.22, 'α - e', fontsize=9, va='center')
arrow(ax2, (5.02, 18.49), (4.81, 18.49))
arrow(ax2, (4.77, 19.11), (4.56, 19.11))
arrow(ax2, (5.83, 19.11), (6.10, 19.48), big=True)

# panel 3
ax3 = fig.add_axes([0.0964, 0.0472, 0.8867, 0.2785])
panel(ax3, vJ_stars, vJ_red, vJ_blue, vJ_purple, vJ_green, vJ_hb_red, vJ_hb_green,
      vJ_sa12, vJ_z004, 8.5, vJ_err_mag, vJ_err_col, vJ_err_y)
setup(ax3, (1.5, 9), (25, 18), MultipleLocator(2), 1,
      MultipleLocator(2), 0.5, 'v - J', 'v')
ax3.text(1.98, 18.69, 'Ns = 697', fontsize=9, va='center')
ax3.scatter([2.0], [20.0], s=26, color=CYAN, lw=0)
ax3.text(2.15, 20.0, 'SA12', fontsize=9, va='center')
ax3.scatter([2.0], [20.80], s=26, color=ORANGE, lw=0)
ax3.text(2.15, 20.80, 'Z004', fontsize=9, va='center')
arrow(ax3, (6.77, 20.11), (6.47, 20.11))
arrow(ax3, (6.36, 20.71), (6.06, 20.71))
arrow(ax3, (7.20, 22.15), (7.57, 22.62), big=True)

fig.savefig('out.png', dpi=100, facecolor='w')
